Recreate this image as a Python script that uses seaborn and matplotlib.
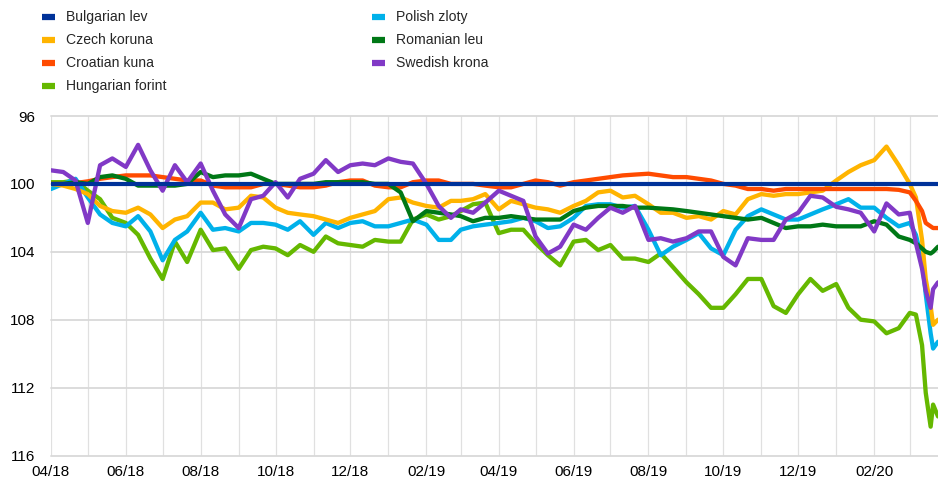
import matplotlib
matplotlib.use("Agg")
import matplotlib.pyplot as plt
import matplotlib.dates as mdates
from matplotlib.lines import Line2D
import pandas as pd
import seaborn as sns

# ---------------- data ----------------
dates = [
    "2018-04-01", "2018-04-11", "2018-04-21", "2018-05-01", "2018-05-11", "2018-05-21",
    "2018-06-01", "2018-06-11", "2018-06-21", "2018-07-01", "2018-07-11", "2018-07-21",
    "2018-08-01", "2018-08-11", "2018-08-21", "2018-09-01", "2018-09-11", "2018-09-21",
    "2018-10-01", "2018-10-11", "2018-10-21", "2018-11-01", "2018-11-11", "2018-11-21",
    "2018-12-01", "2018-12-11", "2018-12-21", "2019-01-01", "2019-01-11", "2019-01-21",
    "2019-02-01", "2019-02-11", "2019-02-21", "2019-03-01", "2019-03-11", "2019-03-21",
    "2019-04-01", "2019-04-11", "2019-04-21", "2019-05-01", "2019-05-11", "2019-05-21",
    "2019-06-01", "2019-06-11", "2019-06-21", "2019-07-01", "2019-07-11", "2019-07-21",
    "2019-08-01", "2019-08-11", "2019-08-21", "2019-09-01", "2019-09-11", "2019-09-21",
    "2019-10-01", "2019-10-11", "2019-10-21", "2019-11-01", "2019-11-11", "2019-11-21",
    "2019-12-01", "2019-12-11", "2019-12-21", "2020-01-01", "2020-01-11", "2020-01-21",
    "2020-02-01", "2020-02-11", "2020-02-21", "2020-03-01", "2020-03-06", "2020-03-11",
    "2020-03-14", "2020-03-18", "2020-03-20", "2020-03-24",
]

lev_dates = ["2018-04-01", "2020-03-24"]
bulgarian_lev = [100.0, 100.0]

czech_koruna = [
    100.0, 100.1, 100.3, 100.6, 101.3, 101.6,
    101.7, 101.4, 101.8, 102.6, 102.1, 101.9,
    101.1, 101.1, 101.5, 101.4, 100.7, 100.8,
    101.4, 101.7, 101.8, 101.9, 102.1, 102.3,
    102.0, 101.8, 101.6, 100.9, 100.8, 101.1,
    101.3, 101.4, 101.0, 101.0, 100.9, 100.6,
    101.5, 101.0, 101.2, 101.4, 101.5, 101.7,
    101.3, 101.0, 100.5, 100.4, 100.8, 100.7,
    101.2, 101.7, 101.7, 102.0, 101.9, 102.1,
    101.6, 101.8, 100.9, 100.6, 100.7, 100.6,
    100.6, 100.5, 100.4, 99.8, 99.3, 98.9,
    98.6, 97.8, 98.9, 100.0, 100.8, 103.3,
    105.6, 107.2, 108.3, 108.0,
]

croatian_kuna = [
    100.0, 100.0, 99.95, 99.85, 99.7, 99.6,
    99.5, 99.5, 99.5, 99.6, 99.7, 99.8,
    99.8, 100.1, 100.2, 100.2, 100.2, 100.0,
    100.0, 100.1, 100.2, 100.2, 100.1, 99.9,
    99.8, 99.8, 100.1, 100.2, 100.2, 99.9,
    99.8, 99.8, 100.0, 100.0, 100.0, 100.1,
    100.2, 100.2, 100.0, 99.8, 99.9, 100.1,
    99.9, 99.8, 99.7, 99.6, 99.5, 99.45,
    99.4, 99.5, 99.6, 99.6, 99.7, 99.8,
    100.0, 100.1, 100.3, 100.3, 100.4, 100.3,
    100.3, 100.3, 100.3, 100.3, 100.3, 100.3,
    100.3, 100.3, 100.35, 100.5, 101.0, 101.6,
    102.3, 102.5, 102.6, 102.6,
]

hungarian_forint = [
    99.9, 99.9, 99.8, 100.4, 100.9, 102.0,
    102.3, 103.0, 104.4, 105.6, 103.4, 104.6,
    102.7, 103.9, 103.8, 105.0, 103.9, 103.7,
    103.8, 104.2, 103.6, 104.0, 103.1, 103.5,
    103.6, 103.7, 103.3, 103.4, 103.4, 102.1,
    101.8, 102.1, 101.9, 101.6, 101.2, 101.1,
    102.9, 102.7, 102.7, 103.5, 104.2, 104.8,
    103.4, 103.3, 103.9, 103.6, 104.4, 104.4,
    104.6, 104.1, 104.9, 105.8, 106.5, 107.3,
    107.3, 106.5, 105.6, 105.6, 107.2, 107.6,
    106.5, 105.6, 106.3, 105.9, 107.3, 108.0,
    108.1, 108.8, 108.5, 107.6, 107.7, 109.5,
    112.3, 114.3, 113.0, 113.7,
]

polish_zloty = [
    100.3, 100.0, 99.7, 100.8, 101.8, 102.3,
    102.5, 101.9, 102.8, 104.5, 103.3, 102.8,
    101.7, 102.7, 102.6, 102.8, 102.3, 102.3,
    102.4, 102.7, 102.2, 103.0, 102.3, 102.6,
    102.3, 102.2, 102.5, 102.5, 102.3, 102.1,
    102.4, 103.3, 103.3, 102.7, 102.5, 102.4,
    102.3, 102.2, 102.0, 102.2, 102.6, 102.5,
    102.0, 101.3, 101.2, 101.2, 101.4, 101.3,
    102.7, 104.2, 103.7, 103.3, 102.9, 103.8,
    104.2, 102.7, 101.9, 101.5, 101.8, 102.1,
    102.1, 101.8, 101.5, 101.2, 100.9, 101.4,
    101.4, 102.0, 102.5, 102.3, 103.0, 104.5,
    106.5, 108.8, 109.7, 109.3,
]

romanian_leu = [
    100.0, 100.0, 99.9, 100.0, 99.6, 99.5,
    99.7, 100.1, 100.1, 100.1, 100.1, 100.0,
    99.3, 99.6, 99.5, 99.5, 99.4, 99.7,
    100.0, 100.0, 100.0, 100.0, 99.9, 99.9,
    99.9, 99.9, 100.0, 100.0, 100.5, 102.2,
    101.6, 101.7, 101.8, 101.9, 102.2, 102.0,
    102.0, 101.9, 102.0, 102.1, 102.1, 102.1,
    101.6, 101.4, 101.3, 101.3, 101.3, 101.4,
    101.4, 101.45, 101.5, 101.6, 101.7, 101.8,
    101.9, 102.0, 102.1, 102.0, 102.3, 102.6,
    102.5, 102.5, 102.4, 102.5, 102.5, 102.5,
    102.2, 102.4, 103.1, 103.3, 103.5, 103.8,
    104.0, 104.1, 104.0, 103.7,
]

swedish_krona = [
    99.2, 99.3, 99.8, 102.3, 98.9, 98.5,
    99.0, 97.7, 99.2, 100.4, 98.9, 99.9,
    98.8, 100.4, 101.8, 102.6, 100.9, 100.7,
    99.9, 100.8, 99.7, 99.4, 98.6, 99.3,
    98.9, 98.8, 98.9, 98.5, 98.7, 98.8,
    100.0, 101.3, 102.0, 101.5, 101.7, 101.1,
    100.4, 100.7, 101.0, 103.1, 104.1, 103.7,
    102.4, 102.7, 102.0, 101.4, 101.7, 101.3,
    103.3, 103.2, 103.4, 103.2, 102.8, 102.8,
    104.3, 104.8, 103.2, 103.3, 103.3, 102.1,
    101.7, 100.7, 100.8, 101.35, 101.5, 101.7,
    102.8, 101.15, 101.8, 101.7, 103.5, 105.0,
    106.3, 107.3, 106.2, 105.8,
]

legend_names = ["Bulgarian lev", "Czech koruna", "Croatian kuna", "Hungarian forint",
                "Polish zloty", "Romanian leu", "Swedish krona"]
colors = {
    "Bulgarian lev": "#003299",
    "Czech koruna": "#FFB400",
    "Croatian kuna": "#FF4B00",
    "Hungarian forint": "#65B800",
    "Polish zloty": "#00B1EA",
    "Romanian leu": "#007816",
    "Swedish krona": "#8139C6",
}
yticks = [96, 100, 104, 108, 112, 116]

# ---------------- plotting ----------------
sns.set_theme(style="white")
plt.rcParams["font.family"] = ["Liberation Sans", "DejaVu Sans"]

W, H = 938, 484
fig = plt.figure(figsize=(W / 100, H / 100), dpi=100)
ax = fig.add_axes([51 / W, 1 - 455.5 / H, (938 - 51) / W, (455.5 - 116) / H])

x_dates = pd.to_datetime(dates)
series = [
    ("Hungarian forint", hungarian_forint, 2.0),
    ("Polish zloty", polish_zloty, 2.1),
    ("Czech koruna", czech_koruna, 2.2),
    ("Croatian kuna", croatian_kuna, 2.3),
    ("Romanian leu", romanian_leu, 2.4),
    ("Swedish krona", swedish_krona, 2.5),
]
for name, vals, z in series:
    df = pd.DataFrame({"date": x_dates, "value": vals})
    sns.lineplot(data=df, x="date", y="value", ax=ax, color=colors[name],
                 linewidth=3.1, legend=False, zorder=z)
df_lev = pd.DataFrame({"date": pd.to_datetime(lev_dates), "value": bulgarian_lev})
sns.lineplot(data=df_lev, x="date", y="value", ax=ax, color=colors["Bulgarian lev"],
             linewidth=3.0, legend=False, zorder=3)

ax.set_xlim(pd.Timestamp("2018-04-01"), pd.Timestamp("2020-03-24"))
ax.set_ylim(116, 96)
ax.set_yticks(yticks)
ax.set_yticklabels([str(t) for t in yticks])
ax.xaxis.set_major_locator(mdates.MonthLocator(bymonth=[2, 4, 6, 8, 10, 12]))
ax.xaxis.set_major_formatter(mdates.DateFormatter("%m/%y"))
ax.xaxis.set_minor_locator(mdates.MonthLocator())
ax.set_xlabel("")
ax.set_ylabel("")

ax.grid(axis="y", color="#d9d9d9", linewidth=1.3, zorder=0)
ax.grid(axis="x", which="both", color="#e0e0e0", linewidth=0.9, zorder=0)
ax.set_axisbelow(True)
for gl in ax.get_ygridlines():
    gl.set_clip_on(False)
for s in ax.spines.values():
    s.set_visible(False)
ax.tick_params(axis="both", which="both", length=0, labelsize=11, colors="#000000")
ax.tick_params(axis="y", pad=11)
ax.tick_params(axis="x", pad=7)

# legend in two columns at the top
def make_handles(names):
    return [Line2D([0], [0], color=colors[n], linewidth=4.5, solid_capstyle="butt")
            for n in names]

col1 = legend_names[:4]
col2 = legend_names[4:]
common = dict(frameon=False, fontsize=10.1, handlelength=0.95, handletextpad=0.78,
              labelspacing=0.64, borderpad=0, borderaxespad=0, loc="upper left")
fig.legend(make_handles(col1), col1, bbox_to_anchor=(42 / W, 1 - 10.5 / H), **common)
fig.legend(make_handles(col2), col2, bbox_to_anchor=(372 / W, 1 - 10.5 / H), **common)

fig.savefig("out.png", dpi=100)
